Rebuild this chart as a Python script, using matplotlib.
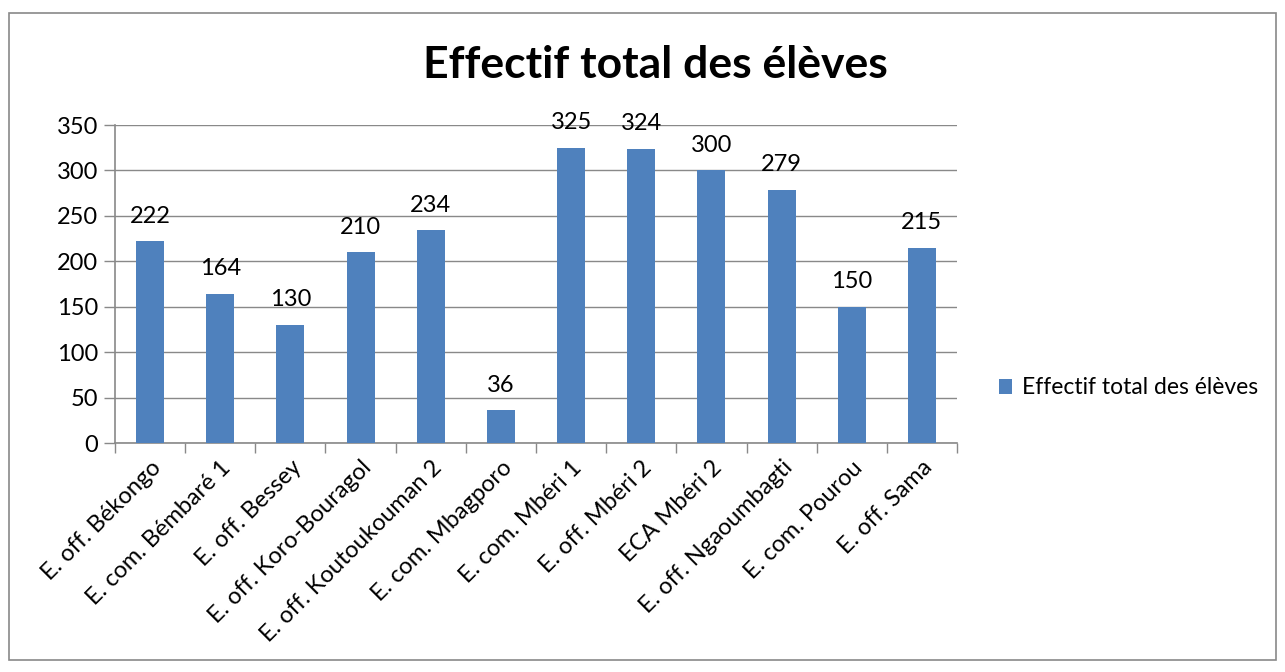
import matplotlib
matplotlib.use("Agg")
import matplotlib.pyplot as plt
from matplotlib.patches import Rectangle

categories = ["E. off. Békongo", "E. com. Bémbaré 1", "E. off. Bessey", "E. off. Koro-Bouragol",
              "E. off. Koutoukouman 2", "E. com. Mbagporo", "E. com. Mbéri 1", "E. off. Mbéri 2",
              "ECA Mbéri 2", "E. off. Ngaoumbagti", "E. com. Pourou", "E. off. Sama"]
values = [222, 164, 130, 210, 234, 36, 325, 324, 300, 279, 150, 215]
yticks = [0, 50, 100, 150, 200, 250, 300, 350]
title = "Effectif total des élèves"
series_name = "Effectif total des élèves"

plt.rcParams['font.family'] = ['Lato', 'DejaVu Sans']

W, H = 1285, 672
fig = plt.figure(figsize=(W / 100, H / 100), dpi=100)
fig.patches.append(Rectangle((9 / W, 1 - 660 / H), (1276 - 9) / W, (660 - 13) / H,
                             transform=fig.transFigure, fill=False, edgecolor='#898989', linewidth=1.2))

left, right, top, bottom = 115, 957, 125, 443
ax = fig.add_axes([left / W, 1 - bottom / H, (right - left) / W, (bottom - top) / H])

FS = 17
x = list(range(len(categories)))
bars = ax.bar(x, values, width=0.4, color='#4F81BD', zorder=3, label=series_name)
for xi, v in zip(x, values):
    ax.annotate(str(v), (xi, v), xytext=(0, 10.5), textcoords='offset points',
                ha='center', va='bottom', fontsize=FS, color='black', zorder=4)

ax.set_xlim(-0.5, len(categories) - 0.5)
ax.set_ylim(0, 350)
ax.set_yticks(yticks)
ax.set_yticklabels([str(t) for t in yticks], fontsize=FS)
ax.yaxis.grid(True, color='#898989', linewidth=1.0, zorder=0)
ax.tick_params(axis='y', length=8, color='#898989', width=1.0, pad=4)

ax.set_xticks([i - 0.5 for i in range(len(categories) + 1)], minor=False)
ax.set_xticklabels([])
ax.tick_params(axis='x', which='major', length=7, color='#898989', width=1.0, direction='out')
ax.set_xticks(x, minor=True)
ax.set_xticklabels(categories, minor=True, rotation=45, ha='right', va='top',
                   rotation_mode='anchor', fontsize=FS)
ax.tick_params(axis='x', which='minor', length=0, pad=10)

for s in ['top', 'right']:
    ax.spines[s].set_visible(False)
for s in ['left', 'bottom']:
    ax.spines[s].set_color('#898989')
    ax.spines[s].set_linewidth(1.2)

fig.text(655 / W, 1 - 65 / H, title, ha='center', va='center', fontsize=32, fontweight='bold')

fig.legend(handles=[bars], labels=[series_name], loc='center left',
           bbox_to_anchor=(978 / W, 1 - 388 / H), frameon=False, fontsize=16.5,
           handlelength=0.6, handleheight=0.6, handletextpad=0.4)

fig.savefig("out.png", dpi=100)
